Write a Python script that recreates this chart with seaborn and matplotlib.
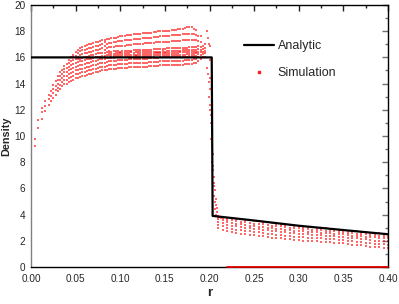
import matplotlib
matplotlib.use("Agg")
import matplotlib.pyplot as plt
import seaborn as sns
import pandas as pd
from matplotlib.ticker import MultipleLocator, FormatStrFormatter
from matplotlib.lines import Line2D

# ---------------- data ----------------
analytic_r = [0.0, 0.2025, 0.2035, 0.25, 0.30, 0.35, 0.40]
analytic_rho = [16.0, 16.0, 3.9, 3.55, 3.15, 2.82, 2.5]

pre_cols = [0.004, 0.008, 0.012, 0.016, 0.020, 0.025, 0.030, 0.035, 0.040, 0.045,
            0.050, 0.055, 0.060, 0.065, 0.070, 0.075, 0.080, 0.085, 0.090, 0.095,
            0.100, 0.105, 0.110, 0.115, 0.120, 0.125, 0.130, 0.135, 0.140, 0.145,
            0.150, 0.155, 0.160, 0.165, 0.170, 0.175, 0.180, 0.185, 0.190, 0.195]
pre_vals = [
    [9.2, 9.8],
    [10.6, 11.2],
    [11.3, 11.8, 12.1],
    [11.9, 12.3, 12.7],
    [12.4, 12.8, 13.1],
    [12.9, 13.3, 13.6, 13.9],
    [13.4, 13.7, 14.0, 14.3, 14.6],
    [13.8, 14.1, 14.4, 14.7, 15.0],
    [14.0, 14.3, 14.6, 14.9, 15.2, 15.5],
    [14.2, 14.5, 14.8, 15.1, 15.4, 15.7, 16.0],
    [14.4, 14.7, 15.0, 15.3, 15.6, 15.9, 16.1, 16.4],
    [14.5, 14.8, 15.1, 15.4, 15.7, 15.9, 16.2, 16.5, 16.7],
    [14.6, 14.9, 15.2, 15.5, 15.8, 16.0, 16.3, 16.6, 16.9],
    [14.7, 15.0, 15.3, 15.6, 15.9, 16.1, 16.4, 16.7, 17.0],
    [14.8, 15.1, 15.4, 15.7, 15.95, 16.2, 16.5, 16.8, 17.1],
    [14.9, 15.2, 15.5, 15.8, 16.0, 16.3, 16.6, 16.9, 17.2],
    [15.0, 15.3, 15.6, 15.9, 16.1, 16.35, 16.7, 17.0, 17.3],
    [15.05, 15.35, 15.65, 15.95, 16.15, 16.4, 16.75, 17.05, 17.4],
    [15.1, 15.4, 15.7, 15.95, 16.1, 16.25, 16.45, 16.8, 17.1, 17.45],
    [15.15, 15.45, 15.75, 16.0, 16.15, 16.3, 16.5, 16.85, 17.2, 17.5],
    [15.2, 15.5, 15.8, 16.0, 16.15, 16.3, 16.45, 16.9, 17.25, 17.6],
    [15.2, 15.5, 15.8, 16.05, 16.2, 16.35, 16.5, 16.9, 17.3, 17.65],
    [15.25, 15.55, 15.85, 16.05, 16.2, 16.35, 16.5, 16.95, 17.3, 17.7],
    [15.25, 15.55, 15.85, 16.05, 16.2, 16.35, 16.55, 17.0, 17.4, 17.75],
    [15.3, 15.6, 15.9, 16.1, 16.25, 16.4, 16.55, 17.0, 17.4, 17.8],
    [15.3, 15.6, 15.9, 16.1, 16.25, 16.4, 16.6, 17.05, 17.45, 17.85],
    [15.3, 15.6, 15.9, 16.1, 16.25, 16.4, 16.6, 17.1, 17.5, 17.9],
    [15.35, 15.65, 15.95, 16.1, 16.25, 16.4, 16.6, 17.1, 17.5, 17.9],
    [15.35, 15.65, 15.95, 16.15, 16.3, 16.45, 16.65, 17.15, 17.55, 17.95],
    [15.4, 15.7, 16.0, 16.15, 16.3, 16.45, 16.65, 17.15, 17.6, 18.0],
    [15.4, 15.7, 16.0, 16.15, 16.3, 16.45, 16.65, 17.2, 17.6, 18.0],
    [15.4, 15.7, 16.0, 16.2, 16.35, 16.5, 16.7, 17.2, 17.65, 18.05],
    [15.4, 15.7, 16.0, 16.2, 16.35, 16.5, 16.7, 17.25, 17.7, 18.1],
    [15.45, 15.75, 16.05, 16.2, 16.35, 16.5, 16.7, 17.25, 17.7, 18.15],
    [15.45, 15.75, 16.05, 16.2, 16.4, 16.55, 16.75, 17.3, 17.75, 18.2],
    [15.5, 15.8, 16.05, 16.25, 16.4, 16.55, 16.75, 17.3, 17.8, 18.3],
    [15.5, 15.8, 16.1, 16.25, 16.4, 16.6, 16.8, 17.35, 17.8, 18.3],
    [15.6, 15.9, 16.1, 16.3, 16.45, 16.6, 16.8, 17.3, 17.7, 18.1],
    [15.9, 16.2, 16.4, 16.6, 16.8, 17.2, 17.6],
    [16.0, 16.3, 16.5, 16.7, 17.0],
]

# in-between columns of the same pre-shock cloud
mid_cols = [0.0225, 0.0275, 0.0325, 0.0375, 0.0425, 0.0475, 0.0525, 0.0575, 0.0625,
            0.0675, 0.0725, 0.0775, 0.0825, 0.0875, 0.0925, 0.0975, 0.1025, 0.1075,
            0.1125, 0.1175, 0.1225, 0.1275, 0.1325, 0.1375, 0.1425, 0.1475, 0.1525,
            0.1575, 0.1625, 0.1675, 0.1725, 0.1775, 0.1825, 0.1875, 0.1925]
mid_vals = [
    [12.7, 13.05, 13.4],
    [13.15, 13.5, 13.85, 14.2],
    [13.6, 13.9, 14.25, 14.55, 14.85],
    [13.95, 14.25, 14.55, 14.85, 15.15, 15.35],
    [14.1, 14.4, 14.7, 15.0, 15.3, 15.6, 15.8],
    [14.3, 14.6, 14.9, 15.2, 15.5, 15.8, 16.0, 16.2],
    [14.45, 14.75, 15.05, 15.35, 15.65, 15.85, 16.05, 16.3, 16.55],
    [14.55, 14.85, 15.15, 15.45, 15.75, 15.95, 16.25, 16.55, 16.8],
    [14.65, 14.95, 15.25, 15.55, 15.85, 16.05, 16.35, 16.65, 16.95],
    [14.75, 15.05, 15.35, 15.65, 15.9, 16.15, 16.45, 16.75, 17.05],
    [14.85, 15.15, 15.45, 15.75, 16.0, 16.25, 16.55, 16.85, 17.15],
    [14.95, 15.25, 15.55, 15.85, 16.05, 16.3, 16.65, 16.95, 17.25],
    [15.0, 15.3, 15.6, 15.9, 16.1, 16.3, 16.55, 16.9, 17.2, 17.35],
    [15.1, 15.4, 15.7, 15.95, 16.15, 16.3, 16.5, 16.8, 17.1, 17.42],
    [15.12, 15.42, 15.72, 15.98, 16.12, 16.28, 16.48, 16.82, 17.15, 17.48],
    [15.18, 15.48, 15.78, 16.02, 16.18, 16.32, 16.48, 16.88, 17.22, 17.55],
    [15.2, 15.5, 15.8, 16.02, 16.18, 16.32, 16.48, 16.9, 17.28, 17.62],
    [15.22, 15.52, 15.82, 16.05, 16.2, 16.35, 16.52, 16.92, 17.3, 17.68],
    [15.25, 15.55, 15.85, 16.05, 16.2, 16.38, 16.52, 16.98, 17.35, 17.72],
    [15.28, 15.58, 15.88, 16.08, 16.22, 16.38, 16.55, 17.0, 17.4, 17.78],
    [15.3, 15.6, 15.9, 16.1, 16.25, 16.4, 16.58, 17.02, 17.42, 17.82],
    [15.3, 15.6, 15.9, 16.1, 16.25, 16.42, 16.6, 17.08, 17.48, 17.88],
    [15.32, 15.62, 15.92, 16.1, 16.25, 16.42, 16.6, 17.1, 17.5, 17.9],
    [15.35, 15.65, 15.95, 16.12, 16.28, 16.45, 16.62, 17.12, 17.52, 17.92],
    [15.38, 15.68, 15.98, 16.15, 16.3, 16.45, 16.65, 17.15, 17.58, 17.98],
    [15.4, 15.7, 16.0, 16.15, 16.3, 16.48, 16.65, 17.18, 17.6, 18.0],
    [15.4, 15.7, 16.0, 16.18, 16.32, 16.5, 16.68, 17.2, 17.62, 18.02],
    [15.4, 15.7, 16.0, 16.2, 16.35, 16.5, 16.7, 17.22, 17.68, 18.08],
    [15.42, 15.72, 16.02, 16.2, 16.35, 16.5, 16.7, 17.25, 17.7, 18.12],
    [15.45, 15.75, 16.05, 16.2, 16.38, 16.52, 16.72, 17.28, 17.72, 18.18],
    [15.48, 15.78, 16.05, 16.22, 16.4, 16.55, 16.75, 17.3, 17.78, 18.25],
    [15.5, 15.8, 16.08, 16.25, 16.4, 16.58, 16.78, 17.32, 17.8, 18.3],
    [15.55, 15.85, 16.1, 16.28, 16.42, 16.6, 16.8, 17.32, 17.75, 18.2],
    [15.75, 16.05, 16.25, 16.45, 16.62, 16.85, 17.25, 17.65],
    [16.05, 16.25, 16.45, 16.65, 16.9],
]

shock_r = [0.197, 0.198, 0.199, 0.200, 0.197, 0.198, 0.199, 0.200, 0.199, 0.200,
           0.202, 0.203, 0.202, 0.203, 0.204, 0.203, 0.204, 0.205, 0.205, 0.206,
           0.205, 0.206, 0.207, 0.206, 0.208, 0.207, 0.209, 0.211, 0.213,
           0.200, 0.201, 0.202, 0.201, 0.204, 0.205, 0.207, 0.208]
shock_rho = [18.0, 17.5, 17.0, 16.9, 15.2, 14.7, 14.1, 13.6, 13.0, 12.4,
             11.0, 10.4, 9.8, 9.2, 8.6, 8.0, 7.4, 6.9, 6.4, 5.9,
             5.4, 5.0, 4.7, 4.4, 4.2, 4.0, 3.9, 3.85, 3.75,
             15.8, 14.4, 11.6, 12.0, 7.7, 6.2, 5.2, 4.5]

post_cols = [0.210, 0.215, 0.220, 0.225, 0.230, 0.235, 0.240, 0.245, 0.250, 0.255,
             0.260, 0.265, 0.270, 0.275, 0.280, 0.285, 0.290, 0.295, 0.300, 0.305,
             0.310, 0.315, 0.320, 0.325, 0.330, 0.335, 0.340, 0.345, 0.350, 0.355,
             0.360, 0.365, 0.370, 0.375, 0.380, 0.385, 0.390, 0.395, 0.400]
post_vals = [
    [3.0, 3.2, 3.45, 3.65, 3.8],
    [2.85, 3.1, 3.35, 3.55, 3.75],
    [2.75, 2.95, 3.2, 3.4, 3.6, 3.75],
    [2.68, 2.9, 3.15, 3.38, 3.55, 3.72],
    [2.6, 2.85, 3.1, 3.3, 3.5, 3.68],
    [2.55, 2.8, 3.05, 3.25, 3.45, 3.65],
    [2.5, 2.75, 3.0, 3.2, 3.4, 3.62],
    [2.48, 2.72, 2.95, 3.15, 3.35, 3.58],
    [2.45, 2.7, 2.9, 3.1, 3.3, 3.5],
    [2.4, 2.65, 2.88, 3.08, 3.28, 3.48],
    [2.35, 2.6, 2.85, 3.05, 3.25, 3.45],
    [2.3, 2.55, 2.8, 3.0, 3.2, 3.4],
    [2.25, 2.5, 2.75, 2.95, 3.15, 3.35],
    [2.22, 2.48, 2.72, 2.92, 3.12, 3.3],
    [2.2, 2.45, 2.7, 2.9, 3.1, 3.28],
    [2.15, 2.4, 2.65, 2.85, 3.05, 3.24],
    [2.1, 2.35, 2.6, 2.8, 3.0, 3.2],
    [2.08, 2.32, 2.58, 2.78, 2.98, 3.16],
    [2.05, 2.3, 2.55, 2.75, 2.95, 3.12],
    [2.02, 2.28, 2.52, 2.72, 2.92, 3.08],
    [2.0, 2.25, 2.5, 2.7, 2.9, 3.05],
    [1.98, 2.22, 2.48, 2.68, 2.86, 3.02],
    [1.95, 2.2, 2.45, 2.65, 2.82, 3.0],
    [1.92, 2.18, 2.42, 2.62, 2.8, 2.97],
    [1.9, 2.15, 2.4, 2.6, 2.78, 2.95],
    [1.88, 2.12, 2.38, 2.58, 2.75, 2.92],
    [1.85, 2.1, 2.35, 2.55, 2.72, 2.88],
    [1.82, 2.08, 2.32, 2.52, 2.68, 2.84],
    [1.8, 2.05, 2.3, 2.5, 2.65, 2.8],
    [1.75, 2.0, 2.25, 2.45, 2.62, 2.77],
    [1.7, 1.95, 2.2, 2.4, 2.58, 2.74],
    [1.68, 1.92, 2.18, 2.38, 2.55, 2.71],
    [1.65, 1.9, 2.15, 2.35, 2.52, 2.68],
    [1.6, 1.85, 2.1, 2.32, 2.49, 2.65],
    [1.55, 1.8, 2.05, 2.3, 2.46, 2.62],
    [1.52, 1.78, 2.02, 2.28, 2.43, 2.59],
    [1.5, 1.75, 2.0, 2.25, 2.4, 2.56],
    [1.48, 1.72, 1.98, 2.22, 2.38, 2.53],
    [1.45, 1.7, 1.95, 2.2, 2.35, 2.5],
]

zero_r = [0.22, 0.40]
zero_rho = [0.0, 0.0]

x_ticks = [0.00, 0.05, 0.10, 0.15, 0.20, 0.25, 0.30, 0.35, 0.40]
y_ticks = [0, 2, 4, 6, 8, 10, 12, 14, 16, 18, 20]

# ---------------- build table ----------------
rows = []
for r, vals in zip(pre_cols + mid_cols + post_cols, pre_vals + mid_vals + post_vals):
    for v in vals:
        rows.append((r, v))
rows += list(zip(shock_r, shock_rho))
sim = pd.DataFrame(rows, columns=["r", "rho"])
ana = pd.DataFrame({"r": analytic_r, "rho": analytic_rho})

# ---------------- plot ----------------
sns.set_theme(style="white")
plt.rcParams["font.family"] = ["Liberation Sans", "DejaVu Sans"]

fig = plt.figure(figsize=(3.99, 3.04), dpi=100)
ax = fig.add_axes([31 / 399, 37 / 304, 357 / 399, 262 / 304])

sns.scatterplot(data=sim, x="r", y="rho", ax=ax, color="#ff0000", s=2.6,
                marker="s", linewidth=0, alpha=0.6, zorder=2, legend=False)
ax.plot(zero_r, zero_rho, color="#e00000", lw=1.3, clip_on=False, zorder=6)
sns.lineplot(data=ana, x="r", y="rho", ax=ax, color="black", lw=1.6,
             estimator=None, sort=False, zorder=3, legend=False)

ax.set_xlim(0, 0.4)
ax.set_ylim(0, 20)
ax.set_xticks(x_ticks)
ax.set_yticks(y_ticks)
ax.xaxis.set_major_formatter(FormatStrFormatter("%.2f"))
ax.yaxis.set_major_formatter(FormatStrFormatter("%d"))
ax.xaxis.set_minor_locator(MultipleLocator(0.025))
ax.yaxis.set_minor_locator(MultipleLocator(1))

ax.tick_params(which="both", direction="in", top=True, right=True,
               labelsize=7.2, width=1)
ax.tick_params(axis="x", which="both", pad=5, color="#202020")
ax.tick_params(axis="y", which="both", pad=4, color="#707070")
ax.tick_params(which="major", length=4.5)
ax.tick_params(which="minor", length=2.5)

for name, sp in ax.spines.items():
    sp.set_linewidth(1.0)
    sp.set_color("black")
ax.spines["left"].set_color("#808080")

ax.set_xlabel("r", fontsize=9.5, fontweight="bold")
ax.set_ylabel("Density", fontsize=7.8, fontweight="bold")
ax.xaxis.set_label_coords(0.5, -0.075)
ax.yaxis.set_label_coords(-0.056, 0.5)

handles = [Line2D([], [], color="black", lw=1.6),
           Line2D([], [], color="#ff1a1a", marker="s", markersize=1.6,
                  linestyle="none")]
ax.legend(handles, ["Analytic", "Simulation"], loc="upper left",
          bbox_to_anchor=(244 / 399, 1 - 40 / 304), bbox_transform=fig.transFigure,
          frameon=False, fontsize=9, handlelength=2.4, handletextpad=0.3,
          labelspacing=1.2, borderpad=0, borderaxespad=0)

fig.savefig("out.png", dpi=100)
